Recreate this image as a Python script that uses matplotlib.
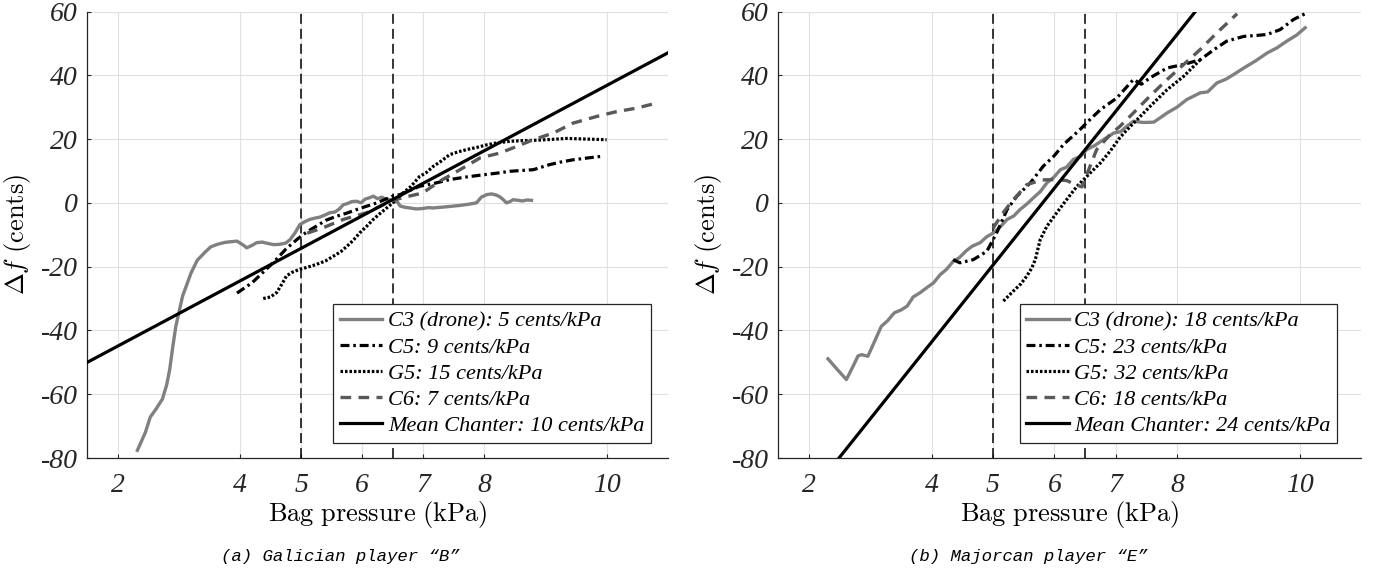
import numpy as np
import matplotlib
matplotlib.use('Agg')
import matplotlib.pyplot as plt

plt.rcParams['mathtext.fontset'] = 'cm'
plt.rcParams['axes.unicode_minus'] = False

# ---------------- data: (a) Galician player "B" ----------------
a_c3_x = [2.32, 2.45, 2.53, 2.63, 2.73, 2.80, 2.85, 2.90, 2.95, 3.06, 3.20, 3.30, 3.42, 3.52, 3.63,
          3.75, 3.84, 3.95, 4.05, 4.11, 4.20, 4.27, 4.36, 4.45, 4.55, 4.65, 4.75, 4.82, 4.90, 4.98,
          5.06, 5.14, 5.22, 5.30, 5.38, 5.47, 5.55, 5.62, 5.69, 5.76, 5.83, 5.91, 5.98, 6.05, 6.12,
          6.18, 6.25, 6.32, 6.38, 6.45, 6.52, 6.58, 6.62, 6.70, 6.78, 6.88, 6.98, 7.08, 7.16, 7.28,
          7.40, 7.50, 7.60, 7.72, 7.87, 7.95, 8.04, 8.12, 8.20, 8.25, 8.31, 8.36, 8.42, 8.47, 8.55,
          8.62, 8.70, 8.77]
a_c3_y = [-77.6, -72.0, -67.2, -64.5, -61.5, -57.0, -52.1, -45.0, -38.6, -29.2, -21.9, -18.0, -15.6,
          -13.8, -13.0, -12.4, -12.2, -12.0, -13.2, -14.1, -13.3, -12.5, -12.3, -12.7, -13.1, -13.0,
          -12.6, -11.5, -9.4, -6.8, -5.9, -5.2, -4.8, -4.5, -3.9, -3.1, -2.9, -2.0, -0.6, -0.2, 0.4,
          0.5, 0.0, 1.2, 1.6, 2.1, 1.3, 1.8, 1.2, 1.0, 0.6, 0.2, -1.0, -1.4, -1.6, -1.9, -1.8, -1.5,
          -1.6, -1.4, -1.2, -1.0, -0.8, -0.5, 0.0, 1.8, 2.6, 2.8, 2.4, 1.9, 1.0, 0.0, 0.4, 1.0, 0.8,
          0.6, 0.9, 0.8]

a_c5_x = [3.95, 4.20, 4.54, 4.75, 4.93, 5.10, 5.25, 5.40, 5.58, 5.75, 5.91, 6.08, 6.24, 6.50, 6.62,
          6.94, 7.20, 7.43, 7.70, 7.98, 8.20, 8.42, 8.80, 9.07, 9.25, 9.45, 9.70, 9.92]
a_c5_y = [-28.3, -25.0, -18.8, -14.5, -11.5, -9.0, -7.3, -5.5, -4.2, -3.2, -2.1, -1.0, 0.0, 2.1, 2.6,
          5.2, 6.2, 7.3, 8.1, 8.8, 9.3, 9.9, 10.4, 12.0, 12.8, 13.5, 14.1, 14.6]

a_g5_x = [4.38, 4.50, 4.60, 4.70, 4.76, 4.85, 4.98, 5.10, 5.25, 5.40, 5.53, 5.65, 5.75, 5.85, 5.96,
          6.08, 6.18, 6.30, 6.40, 6.55, 6.67, 6.80, 6.94, 7.05, 7.16, 7.30, 7.43, 7.57, 7.71, 7.90,
          8.04, 8.20, 8.42, 8.60, 8.80, 9.10, 9.35, 9.67, 10.00]
a_g5_y = [-30.0, -29.5, -28.1, -25.0, -22.9, -21.8, -20.8, -20.2, -19.3, -18.2, -16.7, -15.3, -13.6,
          -11.8, -9.4, -7.2, -5.2, -3.2, -1.6, 0.8, 3.1, 5.2, 8.3, 9.5, 11.4, 13.2, 15.1, 16.0, 16.7,
          17.5, 18.2, 18.8, 19.3, 19.5, 19.6, 19.9, 20.2, 20.0, 19.8]

a_c6_x = [5.10, 5.36, 5.69, 6.07, 6.30, 6.50, 6.70, 6.99, 7.27, 7.60, 7.93, 8.25, 8.53, 8.80, 9.13,
          9.45, 9.84, 10.16, 10.49, 10.82]
a_c6_y = [-9.5, -7.8, -5.2, -3.1, -1.0, 0.8, 1.8, 3.1, 6.8, 10.4, 14.1, 15.6, 17.7, 19.8, 21.9, 25.0,
          27.1, 28.6, 29.7, 31.3]

a_mean_x = [1.5, 11.0]
a_mean_y = [-50.0, 47.0]

a_labels = ['C3 (drone): 5 cents/kPa', 'C5: 9 cents/kPa', 'G5: 15 cents/kPa',
            'C6: 7 cents/kPa', 'Mean Chanter: 10 cents/kPa']

# ---------------- data: (b) Majorcan player "E" ----------------
b_c3_x = [2.31, 2.45, 2.61, 2.72, 2.80, 2.86, 2.96, 3.08, 3.18, 3.28, 3.39, 3.50, 3.60, 3.70, 3.81,
          3.92, 4.03, 4.14, 4.24, 4.35, 4.45, 4.56, 4.66, 4.79, 4.90, 5.01, 5.12, 5.23, 5.34, 5.44,
          5.55, 5.66, 5.77, 5.88, 5.99, 6.10, 6.20, 6.31, 6.42, 6.53, 6.66, 6.80, 6.97, 7.08, 7.18,
          7.29, 7.45, 7.62, 7.72, 7.84, 8.00, 8.16, 8.38, 8.50, 8.65, 8.80, 8.92, 9.09, 9.28, 9.47,
          9.63, 9.79, 9.95, 10.09]
b_c3_y = [-48.9, -52.0, -55.4, -51.2, -48.0, -47.6, -48.1, -43.0, -38.7, -37.0, -34.5, -33.6, -32.4,
          -29.5, -28.2, -26.6, -25.1, -22.5, -20.9, -18.4, -17.2, -15.1, -13.6, -12.5, -10.6, -9.4,
          -7.5, -5.2, -4.1, -2.1, -0.4, 1.6, 3.5, 6.3, 8.0, 10.4, 11.2, 13.6, 14.5, 16.7, 18.0, 19.8,
          21.9, 22.3, 24.0, 25.6, 25.2, 25.3, 26.6, 28.2, 30.0, 32.4, 34.5, 34.8, 37.6, 38.8, 40.2,
          42.3, 44.5, 47.0, 48.6, 50.7, 52.6, 54.9]

b_c5_x = [4.35, 4.46, 4.68, 4.90, 5.06, 5.23, 5.39, 5.61, 5.82, 6.00, 6.15, 6.42, 6.58, 6.75, 7.02,
          7.29, 7.42, 7.56, 7.84, 8.11, 8.38, 8.60, 8.81, 9.09, 9.30, 9.47, 9.68, 9.90, 10.12]
b_c5_y = [-17.8, -18.8, -17.8, -15.2, -9.4, -2.1, 2.1, 6.3, 11.5, 14.8, 18.3, 23.0, 26.1, 29.2, 32.9,
          38.7, 37.2, 39.2, 42.3, 43.4, 44.9, 48.0, 50.7, 52.2, 52.5, 52.8, 54.3, 57.5, 59.6]

b_g5_x = [5.17, 5.33, 5.45, 5.55, 5.63, 5.69, 5.77, 5.88, 6.04, 6.20, 6.37, 6.53, 6.75, 6.91, 7.07,
          7.24, 7.35, 7.60, 7.84, 8.11, 8.38]
b_g5_y = [-30.8, -27.7, -25.5, -23.0, -20.5, -17.8, -11.5, -7.3, -3.1, 1.0, 5.2, 8.3, 12.5, 16.2,
          20.5, 24.0, 26.1, 31.0, 35.5, 39.7, 44.9]

b_c6_x = [5.00, 5.15, 5.31, 5.55, 5.80, 6.01, 6.20, 6.35, 6.45, 6.53, 6.69, 6.91, 7.07, 7.29, 7.56,
          7.84, 8.11, 8.38, 8.65, 8.98]
b_c6_y = [-8.0, -3.5, 0.5, 5.7, 7.2, 7.3, 7.0, 5.7, 5.0, 8.9, 16.7, 21.4, 24.0, 28.2, 33.5, 38.7,
          43.4, 48.1, 53.3, 59.3]

b_mean_x = [2.49, 8.30]
b_mean_y = [-80.0, 60.0]

b_labels = ['C3 (drone): 18 cents/kPa', 'C5: 23 cents/kPa', 'G5: 32 cents/kPa',
            'C6: 18 cents/kPa', 'Mean Chanter: 24 cents/kPa']

x_ticks = [2, 4, 5, 6, 7, 8, 10]
y_ticks = [-80, -60, -40, -20, 0, 20, 40, 60]
ref_pressures = [5.0, 6.5]

W, H = 1377, 572
fig = plt.figure(figsize=(W / 100, H / 100), dpi=100)
ax_a = fig.add_axes([87.3 / W, 1 - 458 / H, 580.4 / W, 446.5 / H])
ax_b = fig.add_axes([778.3 / W, 1 - 458 / H, 582.7 / W, 446.5 / H])

tick_font = dict(family='Liberation Serif', style='italic', size=20)


def draw_panel(ax, c3, c5, g5, c6, mean, labels, leg_x):
    for xv in ref_pressures:
        ax.axvline(xv, color='black', lw=1.1, ls=(0, (6.5, 3.3)), zorder=2)
    h1, = ax.plot(c3[0], c3[1], color='#808080', lw=2.4, zorder=3)
    h2, = ax.plot(c5[0], c5[1], color='black', lw=2.3, ls=(0, (2.8, 1.2, 0.8, 1.2)), zorder=4)
    h3, = ax.plot(g5[0], g5[1], color='black', lw=2.3, ls=(0, (0.8, 0.6)), zorder=4)
    h4, = ax.plot(c6[0], c6[1], color='#595959', lw=2.4, ls=(0, (3.2, 2.2)), zorder=4)
    h5, = ax.plot(mean[0], mean[1], color='black', lw=2.3, zorder=5)

    ax.set_xlim(1.5, 11)
    ax.set_ylim(-80, 60)
    ax.set_xticks(x_ticks)
    ax.set_yticks(y_ticks)
    ax.set_xticklabels([str(t) for t in x_ticks], **tick_font, color='#262626')
    ax.set_yticklabels([str(t) for t in y_ticks], **tick_font, color='#262626')
    ax.tick_params(direction='in', length=3, width=0.8, color='#262626')
    ax.tick_params(axis='x', pad=11)
    ax.tick_params(axis='y', pad=7)
    ax.grid(True, color='#e0e0e0', lw=0.8, zorder=0)
    ax.set_axisbelow(True)
    for s in ['top', 'right']:
        ax.spines[s].set_visible(False)
    for s in ['left', 'bottom']:
        ax.spines[s].set_color('#262626')
        ax.spines[s].set_linewidth(0.9)

    ax.set_xlabel(r'$\mathrm{Bag\ pressure\ (kPa)}$', fontsize=19)
    ax.set_ylabel(r'$\Delta f\ \mathrm{(cents)}$', fontsize=19)
    ax.xaxis.set_label_coords(0.5, -0.092)
    ax.yaxis.set_label_coords(-0.094, 0.5)

    leg = ax.legend([h1, h2, h3, h4, h5], labels, loc='lower right',
                    bbox_to_anchor=(leg_x, 0.034), prop=dict(family='Liberation Serif', style='italic', size=16),
                    handlelength=1.9, handletextpad=0.25, labelspacing=0.25, borderpad=0.3,
                    fancybox=False, framealpha=1.0, edgecolor='#262626', borderaxespad=0)
    leg.get_frame().set_linewidth(0.9)


draw_panel(ax_a, (a_c3_x, a_c3_y), (a_c5_x, a_c5_y), (a_g5_x, a_g5_y), (a_c6_x, a_c6_y),
           (a_mean_x, a_mean_y), a_labels, 0.971)
draw_panel(ax_b, (b_c3_x, b_c3_y), (b_c5_x, b_c5_y), (b_g5_x, b_g5_y), (b_c6_x, b_c6_y),
           (b_mean_x, b_mean_y), b_labels, 0.959)

cap_font = dict(family='Liberation Mono', style='italic', size=12.5, ha='center', va='center')
fig.text(340 / W, 1 - 556.7 / H, '(a) Galician player \u201cB\u201d', **cap_font)
fig.text(1028 / W, 1 - 556.7 / H, '(b) Majorcan player \u201cE\u201d', **cap_font)

fig.savefig('out.png', dpi=100, facecolor='white')
